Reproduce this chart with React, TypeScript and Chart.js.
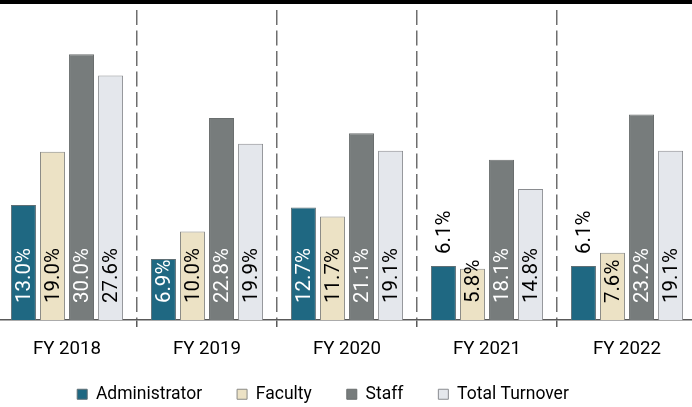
import React, { useEffect, useRef } from "react";
import { Chart, registerables } from "chart.js";

Chart.register(...registerables);

const categories = ["FY 2018", "FY 2019", "FY 2020", "FY 2021", "FY 2022"];
const seriesNames = ["Administrator", "Faculty", "Staff", "Total Turnover"];
const administrator = [13.0, 6.9, 12.7, 6.1, 6.1];
const faculty = [19.0, 10.0, 11.7, 5.8, 7.6];
const staff = [30.0, 22.8, 21.1, 18.1, 23.2];
const totalTurnover = [27.6, 19.9, 19.1, 14.8, 19.1];

const fillColors = ["#1f6882", "#ece2c5", "#777c7c", "#e4e7ec"];
const borderColors = ["#5f6f75", "#8a8a86", "#6a6e6e", "#8a8c90"];
const labelColors = ["#ffffff", "#000000", "#ffffff", "#000000"];

const FONT = "Roboto, 'Open Sans', sans-serif";

const barLabels = {
  id: "barLabels",
  afterLayout(chart: any) {
    const lg = chart.legend;
    if (lg) {
      lg.left -= 24;
      lg.right -= 24;
    }
    const xs = chart.scales.x;
    if (xs) xs.bottom += 20;
  },
  afterDatasetsDraw(chart: any) {
    const ctx = chart.ctx;
    ctx.save();
    ctx.font = `20.5px ${FONT}`;
    chart.data.datasets.forEach((ds: any, di: number) => {
      const meta = chart.getDatasetMeta(di);
      meta.data.forEach((bar: any, i: number) => {
        const v = ds.data[i] as number;
        const text = v.toFixed(1) + "%";
        const w = ctx.measureText(text).width;
        const { x, y, base } = bar.getProps(["x", "y", "base"], true);
        const h = base - y;
        let start: number;
        let color = labelColors[di];
        if (color === "#ffffff" && w + 15 > h) {
          start = y - 12;
          color = "#000000";
        } else {
          start = base - 17;
        }
        ctx.save();
        ctx.translate(x + 1, start);
        ctx.rotate(-Math.PI / 2);
        ctx.textAlign = "left";
        ctx.textBaseline = "middle";
        ctx.fillStyle = color;
        ctx.fillText(text, 0, 0);
        ctx.restore();
      });
    });
    ctx.restore();
  },
};

export default function App() {
  const ref = useRef<HTMLCanvasElement>(null);
  useEffect(() => {
    const values = [administrator, faculty, staff, totalTurnover];
    const chart = new Chart(ref.current!, {
      type: "bar",
      data: {
        labels: categories,
        datasets: seriesNames.map((name, i) => ({
          label: name,
          data: values[i],
          backgroundColor: fillColors[i],
          borderColor: borderColors[i],
          borderWidth: 1,
          categoryPercentage: 0.83,
          barPercentage: 0.86,
        })),
      },
      options: {
        responsive: false,
        animation: false,
        layout: { padding: { top: 10, left: 0, right: 0, bottom: 0 } },
        plugins: {
          tooltip: { enabled: false },
          legend: {
            position: "bottom",
            labels: {
              boxWidth: 10,
              boxHeight: 10,
              padding: 35,
              color: "#000",
              font: { family: FONT, size: 17.5 },
            },
          },
        },
        scales: {
          x: {
            offset: true,
            afterFit: (scale: any) => {
              scale.height -= 21;
            },
            grid: {
              offset: true,
              display: true,
              drawOnChartArea: true,
              drawTicks: true,
              tickLength: 7,
              color: "#6e6e6e",
              lineWidth: 1.5,
              tickColor: "#595959",
              tickWidth: 1.5,
            },
            border: { display: true, color: "#595959", width: 1.5, dash: [15, 5.5] },
            ticks: { color: "#000", font: { family: FONT, size: 18.7 }, padding: 11 },
          },
          y: { display: false, min: 0, max: 35 },
        },
      },
      plugins: [barLabels],
    });
    return () => chart.destroy();
  }, []);
  return (
    <div style={{ position: "fixed", left: 0, top: 0, width: 692, height: 407, overflow: "hidden", background: "#fff" }}>
      <canvas ref={ref} width={700} height={413} style={{ position: "absolute", left: -3, top: 0 }} />
      <div style={{ position: "absolute", left: 0, top: 0, width: 692, height: 4, background: "#000" }} />
    </div>
  );
}
